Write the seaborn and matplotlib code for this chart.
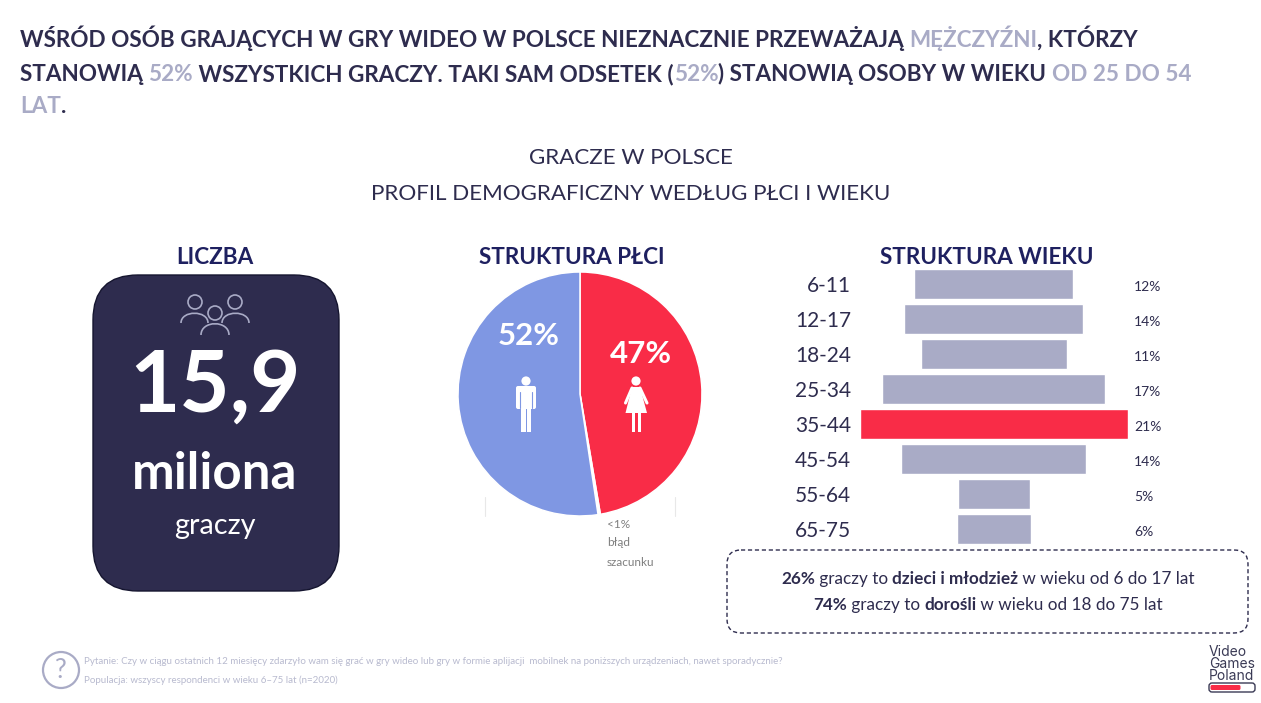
import numpy as np
import pandas as pd
import seaborn as sns
import matplotlib.pyplot as plt
from matplotlib.patches import Circle, FancyBboxPatch, PathPatch, Polygon, Rectangle
from matplotlib.path import Path

# Data
age_groups = ['6-11', '12-17', '18-24', '25-34', '35-44', '45-54', '55-64', '65-75']
age_widths = [12.45, 14.0, 11.45, 17.45, 21.0, 14.45, 5.6, 5.75]
age_labels = ['12%', '14%', '11%', '17%', '21%', '14%', '5%', '6%']
gender_names = ['Kobiety', 'Błąd', 'Mężczyźni']
gender_values = [47, 0.3, 52]

DARK = '#2E2C4E'
LIGHT = '#A9ABC6'
RED = '#F92C47'
BLUE = '#7F97E3'
NAVY = '#1E2060'

sns.set_theme(style='white')
plt.rcParams['font.family'] = ['Lato', 'Noto Sans', 'DejaVu Sans']

W, H = 1261, 703
fig = plt.figure(figsize=(W / 100, H / 100), dpi=100, facecolor='white')


def px_axes(x0, y0, x1, y1):
    return fig.add_axes([x0 / W, 1 - y1 / H, (x1 - x0) / W, (y1 - y0) / H])


# Overlay in pixel coordinates for texts and icons
ov = fig.add_axes([0, 0, 1, 1], zorder=5)
ov.set_xlim(0, W)
ov.set_ylim(H, 0)
ov.axis('off')
ov.patch.set_alpha(0)
renderer = fig.canvas.get_renderer()


def run_width(text, **kw):
    # trailing spaces are not measured, so measure with a dot behind
    a = ov.text(0, 0, text + '.', **kw)
    b = ov.text(0, 0, '.', **kw)
    w = a.get_window_extent(renderer).width - b.get_window_extent(renderer).width
    a.remove()
    b.remove()
    return w


def draw_runs(x, y, runs, size, center=False):
    if center:
        x -= sum(run_width(r[0], fontsize=size, fontweight=r[2]) for r in runs) / 2
    for text, color, weight in runs:
        ov.text(x, y, text, color=color, fontsize=size, fontweight=weight, va='baseline', ha='left')
        x += run_width(text, fontsize=size, fontweight=weight)


# Headline
draw_runs(20, 47, [('WŚRÓD OSÓB GRAJĄCYCH W GRY WIDEO W POLSCE NIEZNACZNIE PRZEWAŻAJĄ ', DARK, 'bold'),
                   ('MĘŻCZYŹNI', LIGHT, 'bold'), (', KTÓRZY', DARK, 'bold')], 16.2)
draw_runs(20, 81, [('STANOWIĄ ', DARK, 'bold'), ('52%', LIGHT, 'bold'),
                   (' WSZYSTKICH GRACZY. TAKI SAM ODSETEK (', DARK, 'bold'), ('52%', LIGHT, 'bold'),
                   (') STANOWIĄ OSOBY W WIEKU ', DARK, 'bold'), ('OD 25 DO 54', LIGHT, 'bold')], 16.2)
draw_runs(20, 113, [('LAT', LIGHT, 'bold'), ('.', DARK, 'bold')], 16.2)

# Subtitle
ov.text(631, 158, 'GRACZE W POLSCE', color=DARK, fontsize=16.15, ha='center', va='center')
ov.text(631, 194, 'PROFIL DEMOGRAFICZNY WEDŁUG PŁCI I WIEKU', color=DARK, fontsize=16.15, ha='center', va='center')

# Panel headers
ov.text(215, 257, 'LICZBA', color=NAVY, fontsize=16.2, fontweight='bold', ha='center', va='center')
ov.text(572, 257, 'STRUKTURA PŁCI', color=NAVY, fontsize=16.2, fontweight='bold', ha='center', va='center')
ov.text(987, 257, 'STRUKTURA WIEKU', color=NAVY, fontsize=16.2, fontweight='bold', ha='center', va='center')

# Number card
ov.add_patch(FancyBboxPatch((93 + 45, 275 + 45), 246 - 90, 316 - 90, boxstyle='round,pad=45',
                            fc=DARK, ec='#15152F', lw=1))
ov.text(215, 412, '15,9', color='white', fontsize=62.5, fontweight='bold', ha='center', va='baseline')
ov.text(215, 489, 'miliona', color='white', fontsize=36.7, fontweight='bold', ha='center', va='baseline')
ov.text(215, 534, 'graczy', color='white', fontsize=20.8, ha='center', va='baseline')


def shoulders(cx0, cx1, top, bottom):
    verts = [(cx0, bottom), (cx0, top), (cx1, top), (cx1, bottom)]
    codes = [Path.MOVETO, Path.CURVE4, Path.CURVE4, Path.CURVE4]
    ov.add_patch(PathPatch(Path(verts, codes), fc='none', ec=LIGHT, lw=1.2))


for cx, cy in [(195, 302), (235, 302), (215, 313)]:
    ov.add_patch(Circle((cx, cy), 7, fc='none', ec=LIGHT, lw=1.2))
shoulders(181, 208, 310, 323)
shoulders(222, 249, 310, 323)
shoulders(201, 229, 320, 335)

# Gender pie
pie_ax = px_axes(458, 272, 702, 516)
pie_ax.pie(gender_values, colors=[RED, 'white', BLUE], startangle=90, counterclock=False, radius=1,
           wedgeprops=dict(edgecolor='white', linewidth=1.1))
pie_ax.set_xlim(-1, 1)
pie_ax.set_ylim(-1, 1)

ov.text(529, 336, '52%', color='white', fontsize=22.5, fontweight='bold', ha='center', va='center')
ov.text(641, 354, '47%', color='white', fontsize=22.5, fontweight='bold', ha='center', va='center')

# male icon
ov.add_patch(Circle((526, 381), 4.6, fc='white', ec='none'))
ov.add_patch(FancyBboxPatch((518, 388), 16, 19, boxstyle='round,pad=2', fc='white', ec='none'))
ov.add_patch(Rectangle((521, 400), 4.6, 32, fc='white', ec='none'))
ov.add_patch(Rectangle((526.6, 400), 4.6, 32, fc='white', ec='none'))
ov.plot([520.2, 520.2], [392, 408], color=BLUE, lw=0.8)
ov.plot([531.8, 531.8], [392, 408], color=BLUE, lw=0.8)
# female icon
ov.add_patch(Circle((636, 381), 4.6, fc='white', ec='none'))
ov.add_patch(Polygon([(632, 387), (640, 387), (647, 413), (625.5, 413)], fc='white', ec='none'))
ov.plot([632, 625.5], [388, 403], color='white', lw=2.2, solid_capstyle='round')
ov.plot([640, 647], [388, 403], color='white', lw=2.2, solid_capstyle='round')
ov.add_patch(Rectangle((632, 412), 3.4, 20, fc='white', ec='none'))
ov.add_patch(Rectangle((637.6, 412), 3.4, 20, fc='white', ec='none'))

# thin marks under the pie and margin of error
ov.plot([484.5, 484.5], [497, 516], color='#E8E8E8', lw=0.8)
ov.plot([674.5, 674.5], [497, 516], color='#E8E8E8', lw=0.8)
for y, txt in zip([524, 543, 562], ['<1%', 'błąd', 'szacunku']):
    ov.text(607, y, txt, color='#7F7F7F', fontsize=8.5, ha='left', va='center')

# Age structure, bars centred on zero
age_df = pd.DataFrame({'age': age_groups, 'share': age_widths})
bar_colors = {a: (RED if a == '35-44' else LIGHT) for a in age_groups}
bar_ax = px_axes(859.5, 266.5, 1128, 546.5)
sns.barplot(data=age_df, y='age', x='share', hue='age', palette=bar_colors, legend=False,
            width=0.85, saturation=1, ax=bar_ax)
for patch in bar_ax.patches:
    patch.set_x(-patch.get_width() / 2)
bar_ax.set_xlim(-10.5, 10.5)
bar_ax.set_xlabel('')
bar_ax.set_ylabel('')
bar_ax.set_xticks([])
bar_ax.tick_params(axis='y', length=0, pad=6, labelsize=15, labelcolor=DARK)
bar_ax.patch.set_alpha(0)
sns.despine(ax=bar_ax, left=True, bottom=True)
for i, txt in enumerate(age_labels):
    bar_ax.annotate(txt, (10.5, i), xytext=(6, -3), textcoords='offset pixels', color=DARK, fontsize=10,
                    va='center', ha='left', annotation_clip=False)

# Dashed note
ov.add_patch(FancyBboxPatch((727 + 14, 550 + 14), 521 - 28, 83 - 28, boxstyle='round,pad=14',
                            fc='none', ec=DARK, lw=1, ls=(0, (3, 2))))
draw_runs(988, 584, [('26%', DARK, 'bold'), (' graczy to ', DARK, 'normal'), ('dzieci i młodzież', DARK, 'bold'),
                     (' w wieku od 6 do 17 lat', DARK, 'normal')], 12.3, center=True)
draw_runs(988, 610, [('74%', DARK, 'bold'), (' graczy to ', DARK, 'normal'), ('dorośli', DARK, 'bold'),
                     (' w wieku od 18 do 75 lat', DARK, 'normal')], 12.3, center=True)

# Footer
ov.add_patch(Circle((61, 670), 18, fc='none', ec=LIGHT, lw=1.6))
ov.text(61, 670, '?', color=LIGHT, fontsize=19, ha='center', va='center')
ov.text(84, 661, 'Pytanie: Czy w ciągu ostatnich 12 miesięcy zdarzyło wam się grać w gry wideo lub gry w formie '
                 'aplijacji  mobilnek na poniższych urządzeniach, nawet sporadycznie?',
        color='#B8BACF', fontsize=7, ha='left', va='center')
ov.text(84, 680, 'Populacja: wszyscy respondenci w wieku 6–75 lat (n=2020)', color='#B8BACF', fontsize=7,
        ha='left', va='center')

# Logo
for y, txt in zip([652, 664, 676], ['Video', 'Games', 'Poland']):
    ov.text(1209, y, txt, color='#3A3A55', fontsize=10, family='Inter', ha='left', va='center')
ov.add_patch(FancyBboxPatch((1212, 686), 40, 3, boxstyle='round,pad=3', fc='white', ec='#3A3A55', lw=1))
ov.add_patch(FancyBboxPatch((1212, 686.5), 27, 2, boxstyle='round,pad=1.5', fc=RED, ec='none'))

fig.savefig('out.png', dpi=100)
